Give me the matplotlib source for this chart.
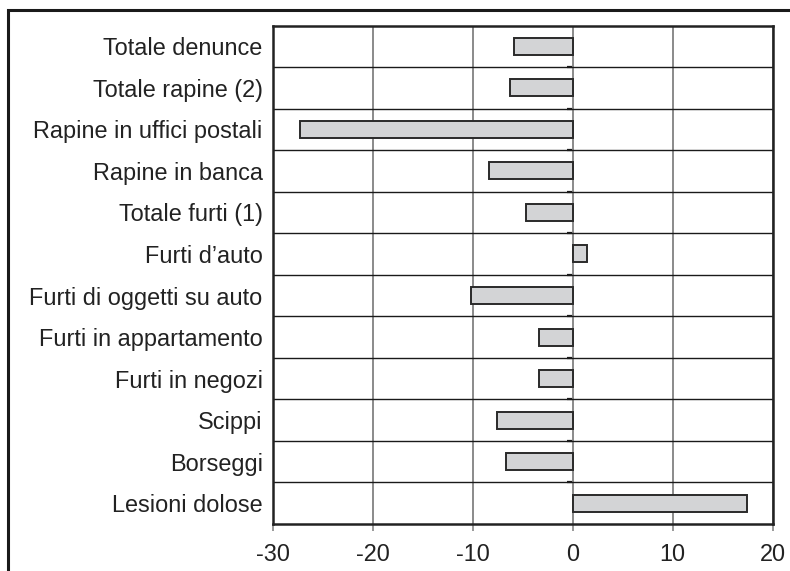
import numpy as np
import matplotlib
matplotlib.use("Agg")
from matplotlib import pyplot as plt
from matplotlib.patches import Rectangle

plt.rcParams['font.family'] = ['Liberation Sans', 'DejaVu Sans']

# data (variazioni %)
categories = ["Totale denunce", "Totale rapine (2)", "Rapine in uffici postali",
              "Rapine in banca", "Totale furti (1)", "Furti d\u2019auto",
              "Furti di oggetti su auto", "Furti in appartamento", "Furti in negozi",
              "Scippi", "Borseggi", "Lesioni dolose"]
values = [-5.85, -6.25, -27.3, -8.35, -4.7, 1.45, -10.15, -3.35, -3.35, -7.6, -6.65, 17.4]
xticks = [-30, -20, -10, 0, 10, 20]

fig = plt.figure(figsize=(7.9, 5.71), dpi=100)
ax = fig.add_axes([272.7/790, 1-524/571, 500/790, (524-25.5)/571])

n = len(categories)
y = np.arange(n)
ax.barh(y, values, height=0.41, color='#d3d4d6', edgecolor='#2a2a2a', linewidth=1.4, zorder=3)

ax.set_xlim(-30, 20)
ax.set_ylim(n - 0.5, -0.5)
ax.set_xticks(xticks)
ax.set_xticklabels([str(t) for t in xticks], fontsize=16.9, color='#222222')
ax.set_yticks(y)
ax.set_yticklabels(categories, fontsize=16.9, color='#222222')
ax.set_yticks(np.arange(0.5, n - 1), minor=True)

ax.tick_params(axis='y', which='both', length=0, pad=7.2)
ax.tick_params(axis='x', length=5, width=1.2, color='#888888', pad=9, direction='out')

ax.grid(axis='x', which='major', color='#8a8a8a', linewidth=1.4, zorder=1)
ax.grid(axis='y', which='minor', color='#1a1a1a', linewidth=1.0, zorder=1)
ax.set_axisbelow(True)

for s in ax.spines.values():
    s.set_color('#222222')
    s.set_linewidth(1.8)

# little black ticks on the zero line at the row boundaries
sec = ax.secondary_yaxis(0.6)
sec.set_yticks(np.arange(0.5, n - 1))
sec.set_yticklabels([])
sec.tick_params(direction='in', length=4.5, width=1.6, color='#1a1a1a')
for s in sec.spines.values():
    s.set_visible(False)

# outer frame of the figure panel
fig.patches.append(Rectangle((8/790, -0.1), 1.2, 1.1 - 10/571, transform=fig.transFigure,
                             fill=False, edgecolor='#1a1a1a', linewidth=2.2))

fig.savefig("out.png", dpi=100)
